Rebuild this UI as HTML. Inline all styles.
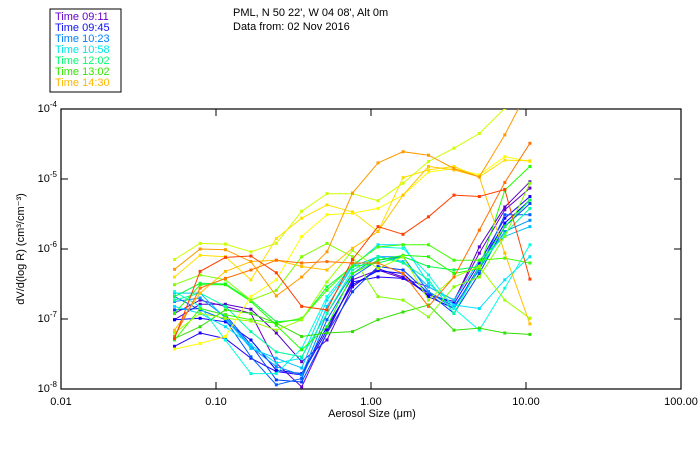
<!DOCTYPE html>
<html><head><meta charset="utf-8"><style>
body{margin:0;background:#fff;width:700px;height:450px;overflow:hidden}
svg text{font-family:"Liberation Sans",sans-serif;font-size:11px;fill:#000}
</style></head><body>
<svg id="chart" width="700" height="450" viewBox="0 0 700 450" xmlns="http://www.w3.org/2000/svg">
<defs><clipPath id="plotclip"><rect x="61" y="109" width="620" height="280"/></clipPath></defs>
<rect x="50" y="9" width="71" height="83" fill="#fff" stroke="#000" stroke-width="1"/>
<text x="233" y="16">PML, N 50 22', W 04 08', Alt 0m</text>
<text x="233" y="30">Data from: 02 Nov 2016</text>
<g id="legend"></g>
<g id="axes"></g>
<g id="series" clip-path="url(#plotclip)"></g>
<text x="372" y="417" text-anchor="middle">Aerosol Size (μm)</text>
<text transform="translate(24,249) rotate(-90)" text-anchor="middle">dV/d(log R) (cm³/cm⁻³)</text>
</svg>
<script>
const legendLabels = ["Time 09:11","Time 09:45","Time 10:23","Time 10:58","Time 12:02","Time 13:02","Time 14:30"];
const legendColors = ["#6a00cc","#1010ff","#0080ff","#00e8e8","#00ff70","#30e800","#ffb800"];
const sizes = [0.054,0.079,0.115,0.168,0.245,0.357,0.52,0.76,1.11,1.61,2.35,3.43,5.0,7.3,10.6];
const xTickValues = [0.01,0.1,1,10,100];
const xTickLabels = ["0.01","0.10","1.00","10.00","100.00"];
const yTickExps = [-4,-5,-6,-7,-8];
const seriesColors = ["#5500cc","#6a00d0","#2000ff","#0000ff","#0040ff","#0060ff","#0090ff","#00c0ff","#00e0ff","#00ffe0","#00ffa0","#00ff40","#20ff00","#40ff00","#30e000","#80ff00","#a0ff00","#ccff00","#ffff00","#ffe000","#ffc000","#ff9900","#ff7000","#ff4000"];
// log10 of dV/dlogR
const s01 = [-7.01,-6.79,-6.79,-6.86,-7.20,-7.61,-7.30,-6.54,-6.28,-6.40,-6.66,-6.75,-5.97,-5.40,-5.04];
const s02 = [-6.92,-6.73,-6.82,-6.92,-7.63,-7.97,-7.20,-6.44,-6.30,-6.42,-6.54,-6.73,-6.06,-5.44,-5.13];
const s03 = [-7.39,-7.20,-7.28,-7.56,-7.75,-7.80,-7.16,-6.47,-6.40,-6.42,-6.63,-6.78,-6.20,-5.56,-5.25];
const s04 = [-7.01,-6.99,-7.04,-7.30,-7.73,-7.78,-7.11,-6.51,-6.31,-6.35,-6.68,-6.85,-6.25,-5.63,-5.30];
const s05 = [-6.87,-6.85,-6.94,-7.37,-7.87,-7.90,-7.20,-6.61,-6.25,-6.30,-6.63,-6.92,-6.35,-5.68,-5.35];
const s06 = [-6.68,-6.87,-7.01,-7.54,-7.94,-7.85,-7.01,-6.40,-6.16,-6.11,-6.61,-6.82,-6.30,-5.51,-5.51];
const s07 = [-6.75,-6.70,-6.97,-7.40,-7.68,-7.80,-6.92,-6.35,-6.11,-6.11,-6.61,-6.85,-6.28,-5.75,-5.59];
const s08 = [-6.63,-6.63,-6.99,-7.42,-7.56,-7.70,-6.82,-6.25,-6.11,-6.18,-6.54,-6.73,-6.16,-5.82,-5.68];
const s09 = [-6.82,-6.92,-7.11,-7.37,-7.63,-7.56,-6.73,-6.25,-5.94,-5.94,-6.49,-6.80,-6.85,-6.44,-6.11];
const s10 = [-6.61,-6.82,-7.30,-7.78,-7.78,-7.42,-6.68,-6.23,-5.97,-5.99,-6.37,-6.85,-7.16,-6.56,-5.94];
const s11 = [-6.73,-6.63,-6.82,-7.18,-7.47,-7.54,-6.92,-6.30,-6.11,-6.20,-6.44,-6.92,-6.25,-5.78,-5.42];
const s12 = [-6.68,-6.49,-6.50,-6.73,-7.04,-7.01,-6.54,-6.25,-6.20,-6.11,-6.25,-6.30,-6.25,-5.68,-5.30];
const s13 = [-6.92,-6.51,-6.51,-6.75,-7.09,-7.44,-7.11,-6.35,-6.16,-6.09,-6.11,-6.35,-6.28,-5.16,-4.82];
const s14 = [-7.30,-6.85,-6.94,-7.01,-7.06,-6.99,-6.59,-6.23,-5.97,-5.94,-5.94,-6.16,-6.16,-6.13,-6.20];
const s15 = [-7.28,-7.11,-6.87,-6.92,-7.06,-7.25,-7.20,-7.18,-7.01,-6.90,-6.80,-7.16,-7.13,-7.20,-7.22];
const s16 = [-6.51,-6.37,-6.44,-6.73,-6.59,-6.11,-5.92,-6.11,-6.68,-6.73,-6.97,-6.54,-6.40,-5.82,-5.06];
const s17 = [-7.20,-6.92,-6.99,-7.03,-7.16,-7.01,-6.47,-6.02,-6.28,-6.11,-6.73,-6.40,-6.25,-6.73,-6.99];
const s18 = [-6.15,-5.92,-5.93,-6.04,-5.92,-5.46,-5.21,-5.21,-5.31,-5.06,-4.75,-4.56,-4.35,-3.99,-3.78];
const s19 = [-7.43,-7.35,-7.25,-6.68,-6.44,-5.82,-5.51,-5.49,-5.42,-5.23,-4.90,-4.85,-4.94,-4.68,-4.75];
const s20 = [-6.40,-6.09,-6.11,-6.44,-5.85,-5.56,-5.37,-5.47,-5.75,-4.98,-4.87,-4.82,-4.97,-4.73,-4.74];
const s21 = [-7.16,-6.63,-6.32,-6.18,-6.16,-6.25,-6.30,-5.99,-5.75,-5.23,-4.82,-4.87,-4.97,-6.06,-7.07];
const s22 = [-6.29,-6.00,-6.01,-6.18,-6.67,-6.40,-6.04,-5.20,-4.77,-4.61,-4.66,-4.85,-4.97,-4.37,-3.68];
const s23 = [-7.25,-6.56,-6.42,-6.30,-6.16,-6.20,-6.18,-6.20,-6.20,-6.35,-6.82,-6.40,-5.73,-5.05,-4.49];
const s24 = [-7.28,-6.32,-6.12,-6.10,-6.34,-6.82,-6.87,-6.15,-5.68,-5.79,-5.54,-5.23,-5.25,-5.15,-6.43];
const allSeries = [s01,s02,s03,s04,s05,s06,s07,s08,s09,s10,s11,s12,s13,s14,s15,s16,s17,s18,s19,s20,s21,s22,s23,s24];

const L=61,R=681,T=109,B=389;
const NS="http://www.w3.org/2000/svg";
function xs(v){return L+(Math.log10(v)+2)/4*(R-L);}
function ys(e){return T+(-4-e)/4*(B-T);}
function mk(tag,attrs,parent){const el=document.createElementNS(NS,tag);for(const k in attrs)el.setAttribute(k,attrs[k]);parent.appendChild(el);return el;}

const lg=document.getElementById('legend');
legendLabels.forEach((t,i)=>{
  const el=mk('text',{x:55,y:20+i*11,fill:legendColors[i]},lg);
  el.style.fill=legendColors[i];
  el.textContent=t;
  
  
});

const ax=document.getElementById('axes');
const frame=mk('rect',{x:L,y:T,width:R-L,height:B-T,fill:'none',stroke:'#000','stroke-width':1.2},ax);


xTickValues.forEach((v,i)=>{
  const x=xs(v);
  if(i>0&&i<xTickValues.length-1){
    mk('line',{x1:x,x2:x,y1:B,y2:B-7,stroke:'#000'},ax);
    mk('line',{x1:x,x2:x,y1:T,y2:T+7,stroke:'#000'},ax);
  }
  const t=mk('text',{x:x,y:B+16,'text-anchor':'middle'},ax);
  t.textContent=xTickLabels[i];
  
  
});
yTickExps.forEach(e=>{
  const y=ys(e);
  const t=mk('text',{x:L-4,y:y+3,'text-anchor':'end'},ax);
  t.innerHTML='10<tspan dy="-5" font-size="8">'+e+'</tspan>';
  
  
  if(e!==-4&&e!==-8){
    mk('line',{x1:L,x2:L+7,y1:y,y2:y,stroke:'#000'},ax);
    mk('line',{x1:R,x2:R-7,y1:y,y2:y,stroke:'#000'},ax);
  }
});

const sg=document.getElementById('series');
allSeries.forEach((vals,si)=>{
  const c=seriesColors[si];
  const pts=vals.map((e,i)=>xs(sizes[i]).toFixed(1)+','+ys(e).toFixed(1)).join(' ');
  const pl=mk('polyline',{points:pts,fill:'none',stroke:c,'stroke-width':1},sg);
  
  
  vals.forEach((e,i)=>{
    const r=mk('rect',{x:xs(sizes[i])-1.5,y:ys(e)-1.5,width:3,height:3,fill:c},sg);
    
    
  });
});
</script>
</body></html>
